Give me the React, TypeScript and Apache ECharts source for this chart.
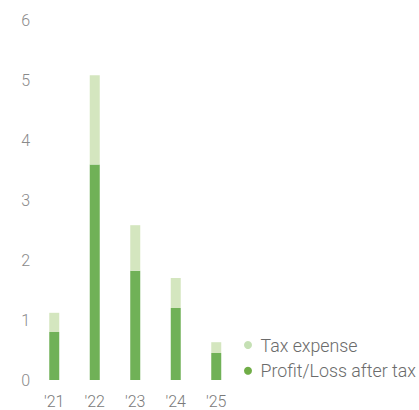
import React, { useEffect, useRef } from "react";
import * as echarts from "echarts";

const categories = ["'21", "'22", "'23", "'24", "'25"];
const profitAfterTax = [0.8, 3.59, 1.82, 1.2, 0.45];
const taxExpense = [0.32, 1.49, 0.76, 0.5, 0.18];
const yTicks = { min: 0, max: 6, interval: 1 };

const FONT = "Roboto, 'Liberation Sans', sans-serif";

export default function App() {
  const ref = useRef<HTMLDivElement>(null);
  useEffect(() => {
    document.body.style.margin = "0";
    const chart = echarts.init(ref.current!, undefined, { renderer: "svg" });
    chart.setOption({
      animation: false,
      backgroundColor: "#ffffff",
      grid: { left: 34, top: 20, width: 202.5, height: 360, containLabel: false },
      legend: {
        orient: "vertical",
        left: 244,
        top: 335,
        padding: 0,
        icon: "circle",
        itemWidth: 15,
        itemHeight: 8,
        itemGap: 5.7,
        textStyle: { color: "#6b6b6b", fontSize: 17.8, fontFamily: FONT, fontWeight: 300, lineHeight: 20 },
        data: [
          { name: "Tax expense", itemStyle: { color: "#c5e0b4" } },
          { name: "Profit/Loss after tax", itemStyle: { color: "#70ad47" } },
        ],
      },
      xAxis: {
        type: "category",
        data: categories,
        axisLine: { show: false },
        axisTick: { show: false },
        axisLabel: { color: "#7a7a7a", fontSize: 16, fontFamily: FONT, fontWeight: 300, margin: 13 },
      },
      yAxis: {
        type: "value",
        min: yTicks.min,
        max: yTicks.max,
        interval: yTicks.interval,
        splitLine: { show: false },
        axisLine: { show: false },
        axisTick: { show: false },
        axisLabel: { color: "#8a8a8a", fontSize: 16, fontFamily: FONT, fontWeight: 300, margin: 4, align: "right" },
      },
      series: [
        {
          name: "Profit/Loss after tax",
          type: "bar",
          stack: "total",
          barWidth: 10,
          data: profitAfterTax,
          itemStyle: { color: "#70b157" },
        },
        {
          name: "Tax expense",
          type: "bar",
          stack: "total",
          barWidth: 10,
          data: taxExpense,
          itemStyle: { color: "#d4e6bf" },
        },
      ],
    });
    return () => chart.dispose();
  }, []);
  return <div ref={ref} style={{ width: 419, height: 410 }} />;
}
